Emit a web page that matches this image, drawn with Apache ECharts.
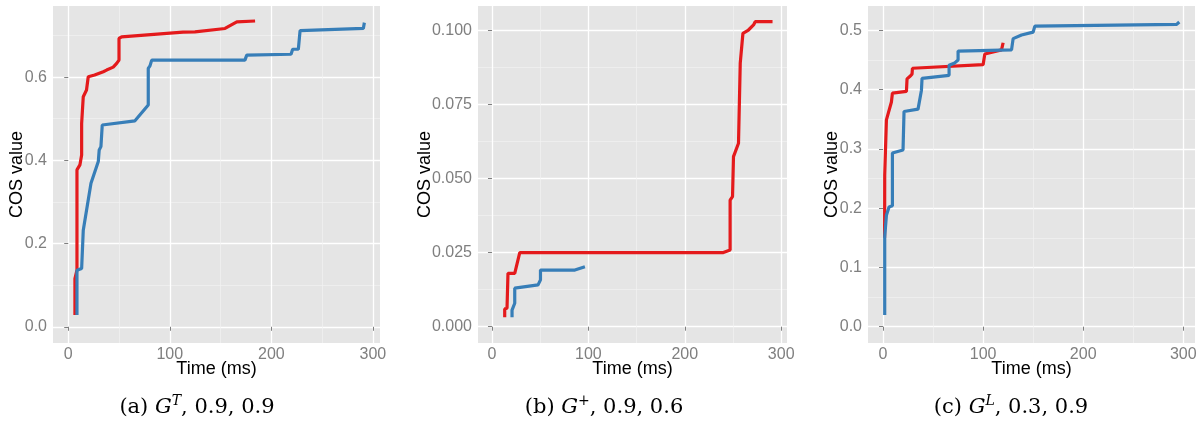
<!DOCTYPE html>
<html>
<head>
<meta charset="utf-8">
<script src="https://cdn.jsdelivr.net/npm/echarts@6/dist/echarts.min.js"></script>
<style>
  html, body { margin: 0; padding: 0; background: #fff; }
  #chart { width: 1204px; height: 426px; }
</style>
</head>
<body>
<div id="chart"></div>
<script>
// (a) G^T, 0.9, 0.9
const aRed = [[6.6,0.028],[6.6,0.116],[8.6,0.136],[8.6,0.377],[11.5,0.389],[13.2,0.413],[13.2,0.489],[14.8,0.553],[18,0.569],[19.7,0.601],[26,0.605],[34.5,0.613],[37.8,0.617],[44.3,0.624],[47.7,0.633],[50,0.641],[50,0.693],[52.6,0.697],[113,0.708],[124.8,0.709],[154.4,0.717],[166,0.733],[184,0.735]];
const aBlue = [[8.6,0.028],[8.6,0.136],[13.2,0.140],[14.8,0.232],[16.5,0.236],[22.4,0.345],[29.6,0.397],[30.5,0.425],[32.2,0.433],[33.5,0.485],[65.7,0.495],[78.8,0.533],[78.8,0.621],[80.5,0.627],[82.2,0.641],[174,0.641],[175.8,0.653],[219.4,0.655],[221,0.667],[226.6,0.667],[228.3,0.712],[290.6,0.717],[291.6,0.731]];
// (b) G^+, 0.9, 0.6
const bRed = [[13.2,0.0032],[13.2,0.006],[15.6,0.0062],[16.6,0.018],[23.6,0.018],[28.8,0.025],[240,0.025],[247,0.0259],[247,0.0427],[249.5,0.0439],[250.5,0.0574],[255.7,0.0619],[257.5,0.0889],[260.3,0.099],[266,0.1001],[271.3,0.1018],[273,0.1029],[291,0.1029]];
const bBlue = [[20.8,0.0032],[20.8,0.0056],[23.6,0.0079],[23.6,0.013],[47.8,0.0141],[50.3,0.0158],[50.3,0.0191],[86,0.0191],[96.4,0.0202]];
// (c) G^L, 0.3, 0.9
const cRed = [[1.6,0.15],[1.7,0.256],[3.4,0.349],[8.4,0.379],[9.4,0.394],[23.4,0.397],[24,0.418],[26.7,0.422],[29,0.426],[29.4,0.436],[100,0.442],[101.7,0.460],[118.4,0.467],[120,0.468],[120,0.479]];
const cBlue = [[1.7,0.0197],[1.7,0.152],[3.4,0.188],[6,0.202],[9.4,0.204],[9.4,0.293],[20,0.298],[21,0.363],[35,0.367],[38.4,0.399],[39,0.419],[66,0.424],[66,0.441],[71.7,0.445],[75,0.450],[75,0.465],[128.4,0.467],[130,0.486],[138.4,0.492],[150,0.497],[151.7,0.507],[293.4,0.510],[296,0.514]];

const xTicks = [0, 100, 200, 300];
const xMinor = [50, 150, 250];
const aYTicks = [0, 0.2, 0.4, 0.6];
const aYMinor = [0.1, 0.3, 0.5, 0.7];
const bYTicks = [0, 0.025, 0.05, 0.075, 0.1];
const bYMinor = [0.0125, 0.0375, 0.0625, 0.0875];
const cYTicks = [0, 0.1, 0.2, 0.3, 0.4, 0.5];
const cYMinor = [0.05, 0.15, 0.25, 0.35, 0.45];

const RED = '#E41A1C';
const BLUE = '#377EB8';
const GREY = '#7F7F7F';
const SANS = 'Liberation Sans';

const panels = [
  { grid: { left: 53, top: 6, width: 327, height: 337 }, x: [-15, 307], y: [-0.039, 0.771],
    yTicks: aYTicks, yMinor: aYMinor, digits: 1, nameGap: 27, red: aRed, blue: aBlue,
    cx: 197, label: '(a) ', sup: 'T', rest: ', 0.9, 0.9' },
  { grid: { left: 478, top: 6, width: 309, height: 337 }, x: [-14.5, 306], y: [-0.0055, 0.1082],
    yTicks: bYTicks, yMinor: bYMinor, digits: 3, nameGap: 44, red: bRed, blue: bBlue,
    cx: 604, label: '(b) ', sup: '+', rest: ', 0.9, 0.6' },
  { grid: { left: 868, top: 6, width: 327, height: 337 }, x: [-15, 311.7], y: [-0.0275, 0.541],
    yTicks: cYTicks, yMinor: cYMinor, digits: 1, nameGap: 27, red: cRed, blue: cBlue,
    cx: 1011, label: '(c) ', sup: 'L', rest: ', 0.3, 0.9' }
];

const grid = [], xAxis = [], yAxis = [], series = [], graphic = [];

panels.forEach((p, i) => {
  grid.push(Object.assign({ show: true, backgroundColor: '#E5E5E5', borderWidth: 0 }, p.grid));

  // minor grid lines
  xAxis.push({
    type: 'value', gridIndex: i, min: p.x[0], max: p.x[1],
    axisLine: { show: false }, axisLabel: { show: false },
    axisTick: { show: false, customValues: xMinor },
    splitLine: { show: true, lineStyle: { color: '#F2F2F2', width: 0.7 } }
  });
  yAxis.push({
    type: 'value', gridIndex: i, min: p.y[0], max: p.y[1],
    axisLine: { show: false }, axisLabel: { show: false },
    axisTick: { show: false, customValues: p.yMinor },
    splitLine: { show: true, lineStyle: { color: '#F2F2F2', width: 0.7 } }
  });

  // main axes
  xAxis.push({
    type: 'value', gridIndex: i, min: p.x[0], max: p.x[1], position: 'bottom',
    name: 'Time (ms)', nameLocation: 'middle', nameGap: 17, nameMoveOverlap: false,
    nameTextStyle: { color: '#000', fontSize: 18, fontFamily: SANS },
    axisLine: { show: false },
    axisTick: { show: true, length: 4, customValues: xTicks, lineStyle: { color: GREY } },
    axisLabel: { customValues: xTicks, color: GREY, fontSize: 16, fontFamily: SANS, margin: 4 },
    splitLine: { show: true, lineStyle: { color: '#fff', width: 1.3 } }
  });
  yAxis.push({
    type: 'value', gridIndex: i, min: p.y[0], max: p.y[1], position: 'left',
    name: 'COS value', nameLocation: 'middle', nameGap: p.nameGap, nameMoveOverlap: false,
    nameTextStyle: { color: '#000', fontSize: 18, fontFamily: SANS },
    axisLine: { show: false },
    axisTick: { show: true, length: 4, customValues: p.yTicks, lineStyle: { color: GREY } },
    axisLabel: { customValues: p.yTicks, color: GREY, fontSize: 16, fontFamily: SANS, margin: 6,
      formatter: v => v.toFixed(p.digits) },
    splitLine: { show: true, lineStyle: { color: '#fff', width: 1.3 } }
  });

  [[p.red, RED], [p.blue, BLUE]].forEach(([data, color]) => {
    series.push({
      type: 'line', xAxisIndex: 2 * i + 1, yAxisIndex: 2 * i + 1, data: data,
      showSymbol: false, symbol: 'none', silent: true,
      lineStyle: { color: color, width: 3.2 }
    });
  });

  graphic.push({
    type: 'text', x: p.cx, y: 408,
    style: {
      text: '{n|' + p.label + '}{i|G}{s|' + p.sup + '}{n|' + p.rest + '}',
      align: 'center', verticalAlign: 'middle',
      rich: {
        n: { fontFamily: 'DejaVu Serif', fontSize: 21, fill: '#000', lineHeight: 27 },
        i: { fontFamily: 'DejaVu Serif', fontStyle: 'italic', fontSize: 21, fill: '#000', lineHeight: 27 },
        s: { fontFamily: 'DejaVu Serif', fontStyle: 'italic', fontSize: 14, fill: '#000', lineHeight: 14, verticalAlign: 'top' }
      }
    }
  });
});

const chart = echarts.init(document.getElementById('chart'));
chart.setOption({ animation: false, grid, xAxis, yAxis, series, graphic });
</script>
</body>
</html>
